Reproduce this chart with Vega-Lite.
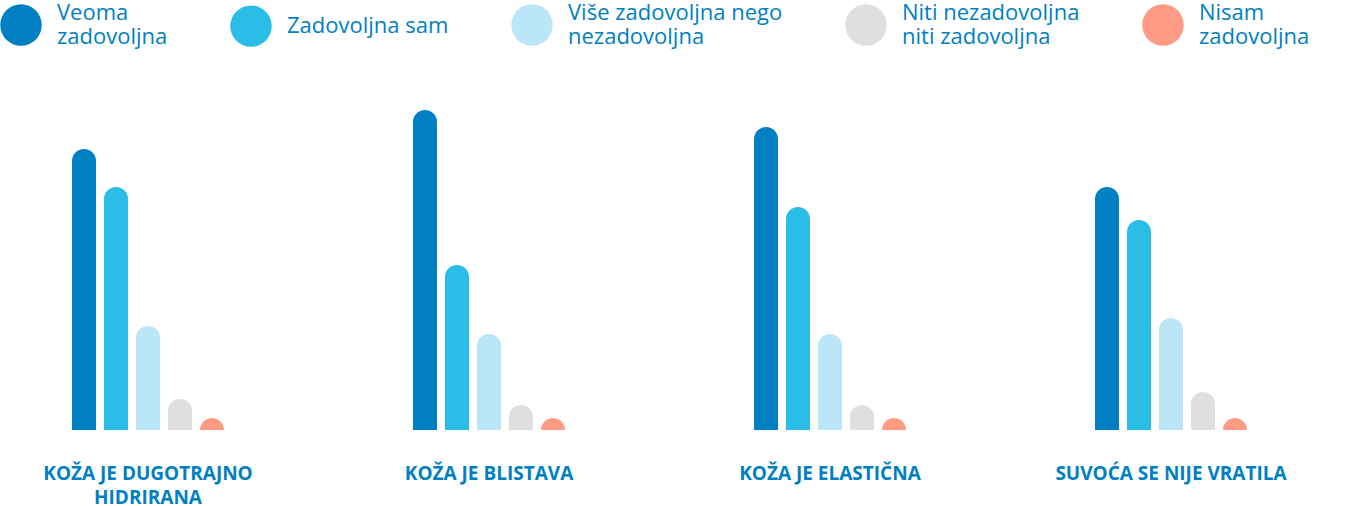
{
  "$schema": "https://vega.github.io/schema/vega-lite/v6.json",
  "width": 1360,
  "height": 400,
  "autosize": {"type": "none"},
  "padding": {"left": 0, "top": 30, "right": 0, "bottom": 76},
  "background": "white",
  "config": {"view": {"stroke": null}},
  "data": {
    "values": [
      {"group": "KOŽA JE DUGOTRAJNO HIDRIRANA", "answer": "Veoma zadovoljna", "share": 70.25},
      {"group": "KOŽA JE DUGOTRAJNO HIDRIRANA", "answer": "Zadovoljna sam", "share": 60.75},
      {"group": "KOŽA JE DUGOTRAJNO HIDRIRANA", "answer": "Više zadovoljna nego nezadovoljna", "share": 26},
      {"group": "KOŽA JE DUGOTRAJNO HIDRIRANA", "answer": "Niti nezadovoljna niti zadovoljna", "share": 7.75},
      {"group": "KOŽA JE DUGOTRAJNO HIDRIRANA", "answer": "Nisam zadovoljna", "share": 3},
      {"group": "KOŽA JE BLISTAVA", "answer": "Veoma zadovoljna", "share": 80},
      {"group": "KOŽA JE BLISTAVA", "answer": "Zadovoljna sam", "share": 41.25},
      {"group": "KOŽA JE BLISTAVA", "answer": "Više zadovoljna nego nezadovoljna", "share": 24},
      {"group": "KOŽA JE BLISTAVA", "answer": "Niti nezadovoljna niti zadovoljna", "share": 6.25},
      {"group": "KOŽA JE BLISTAVA", "answer": "Nisam zadovoljna", "share": 3},
      {"group": "KOŽA JE ELASTIČNA", "answer": "Veoma zadovoljna", "share": 75.75},
      {"group": "KOŽA JE ELASTIČNA", "answer": "Zadovoljna sam", "share": 55.75},
      {"group": "KOŽA JE ELASTIČNA", "answer": "Više zadovoljna nego nezadovoljna", "share": 24},
      {"group": "KOŽA JE ELASTIČNA", "answer": "Niti nezadovoljna niti zadovoljna", "share": 6.25},
      {"group": "KOŽA JE ELASTIČNA", "answer": "Nisam zadovoljna", "share": 3},
      {"group": "SUVOĆA SE NIJE VRATILA", "answer": "Veoma zadovoljna", "share": 60.75},
      {"group": "SUVOĆA SE NIJE VRATILA", "answer": "Zadovoljna sam", "share": 52.5},
      {"group": "SUVOĆA SE NIJE VRATILA", "answer": "Više zadovoljna nego nezadovoljna", "share": 28},
      {"group": "SUVOĆA SE NIJE VRATILA", "answer": "Niti nezadovoljna niti zadovoljna", "share": 9.5},
      {"group": "SUVOĆA SE NIJE VRATILA", "answer": "Nisam zadovoljna", "share": 3}
    ]
  },
  "mark": {
    "type": "bar",
    "clip": true,
    "cornerRadiusTopLeft": 12,
    "cornerRadiusTopRight": 12
  },
  "encoding": {
    "x": {
      "field": "group",
      "type": "nominal",
      "sort": null,
      "scale": {"range": [-22.5, 1341.5], "paddingInner": 0, "paddingOuter": 0},
      "axis": {
        "title": null,
        "domain": false,
        "ticks": false,
        "labelAngle": 0,
        "labelFont": "Open Sans",
        "labelFontSize": 19,
        "labelFontWeight": 700,
        "labelColor": "#0080C2",
        "labelPadding": 34,
        "labelBaseline": "top",
        "labelLineHeight": 24,
        "labelLimit": 400,
        "labelExpr": "datum.value == 'KOŽA JE DUGOTRAJNO HIDRIRANA' ? ['KOŽA JE DUGOTRAJNO', 'HIDRIRANA'] : datum.value"
      }
    },
    "xOffset": {
      "field": "answer",
      "type": "nominal",
      "sort": null,
      "scale": {"range": [94.5, 246.5], "paddingInner": 0.25, "paddingOuter": 0}
    },
    "y": {
      "field": "share",
      "type": "quantitative",
      "scale": {"domain": [0, 100]},
      "axis": null
    },
    "y2": {"datum": -3},
    "color": {
      "field": "answer",
      "type": "nominal",
      "sort": null,
      "scale": {
        "domain": ["Veoma zadovoljna", "Zadovoljna sam", "Više zadovoljna nego nezadovoljna", "Niti nezadovoljna niti zadovoljna", "Nisam zadovoljna"],
        "range": ["#0080C2", "#29BDE8", "#BAE6F7", "#DFDFDF", "#FF9B85"]
      },
      "legend": {
        "title": null,
        "orient": "none",
        "legendX": 0,
        "legendY": -26,
        "direction": "horizontal",
        "columns": 5,
        "symbolType": "circle",
        "symbolSize": 1720,
        "symbolStrokeWidth": 0,
        "symbolOpacity": 1,
        "labelFont": "Open Sans",
        "labelFontSize": 22,
        "labelFontWeight": 500,
        "labelColor": "#0080C2",
        "labelOffset": 15,
        "labelLimit": 400,
        "columnPadding": 62,
        "labelExpr": "datum.label == 'Veoma zadovoljna' ? ['Veoma', 'zadovoljna'] : datum.label == 'Više zadovoljna nego nezadovoljna' ? ['Više zadovoljna nego', 'nezadovoljna'] : datum.label == 'Niti nezadovoljna niti zadovoljna' ? ['Niti nezadovoljna', 'niti zadovoljna'] : datum.label == 'Nisam zadovoljna' ? ['Nisam', 'zadovoljna'] : datum.label",
        "encode": {"labels": {"update": {"lineHeight": {"value": 24}, "dy": {"signal": "datum.value == 'Zadovoljna sam' ? 0 : -12"}}}}
      }
    }
  }
}
